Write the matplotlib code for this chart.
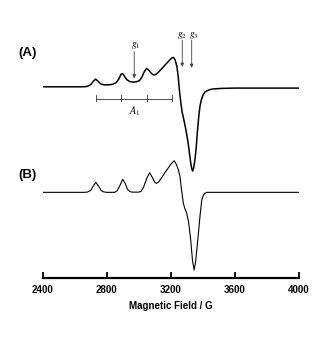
import matplotlib
matplotlib.use('Agg')
import matplotlib.pyplot as plt

# EPR spectra, intensity in arbitrary units relative to each baseline
field_a = [2400, 2660, 2680, 2700, 2715, 2730, 2745, 2760, 2780, 2800, 2820, 2840,
           2860, 2875, 2890, 2900, 2910, 2925, 2945, 2965, 2985, 3005, 3020, 3035,
           3050, 3065, 3080, 3095, 3110, 3130, 3150, 3170, 3190, 3205, 3218, 3228,
           3239, 3247, 3254, 3262, 3271, 3281, 3291, 3302, 3312, 3325, 3332, 3337,
           3343, 3350, 3358, 3366, 3375, 3383, 3391, 3403, 3416, 3435, 3458, 3490,
           3521, 3600, 4000]
signal_a = [0.3, 0.3, 0.8, 2.5, 5.5, 8.0, 6.0, 3.5, 2.3, 2.2, 2.4, 2.9,
            4.5, 8.0, 13.0, 13.5, 11.0, 7.5, 5.5, 5.0, 5.3, 6.5, 10.0, 15.5,
            18.7, 16.5, 13.5, 12.0, 13.0, 16.0, 19.5, 23.0, 26.5, 29.0, 29.7, 27.0,
            20.3, 10.0, -3.0, -14.0, -24.7, -32.0, -39.7, -49.0, -59.7, -76.0, -82.0, -84.0,
            -81.0, -74.0, -63.0, -46.0, -29.7, -19.0, -13.0, -7.5, -4.7, -3.0, -2.0, -1.6,
            -1.3, -1.0, -1.0]

field_b = [2400, 2660, 2680, 2700, 2715, 2732, 2750, 2765, 2780, 2800, 2850, 2865,
           2880, 2900, 2915, 2930, 2945, 2960, 3000, 3015, 3030, 3050, 3068, 3085,
           3100, 3112, 3125, 3145, 3165, 3185, 3205, 3222, 3235, 3247, 3258, 3268,
           3279, 3290, 3300, 3312, 3325, 3336, 3346, 3355, 3364, 3373, 3384, 3394,
           3405, 3415, 3425, 4000]
signal_b = [0.0, 0.0, 0.3, 2.0, 6.0, 10.0, 6.0, 2.0, 0.5, 0.0, 0.0, 1.5,
            6.0, 13.0, 9.0, 3.0, 0.8, 0.2, 0.2, 1.0, 5.0, 14.0, 19.6, 15.0,
            10.0, 9.0, 10.5, 15.0, 20.0, 24.5, 29.0, 31.6, 28.0, 23.0, 15.6, 2.0,
            -11.0, -17.0, -21.0, -30.0, -48.0, -68.0, -77.7, -70.0, -56.0, -41.0, -22.0, -7.7,
            -2.5, -0.8, 0.0, 0.0]

xticks = [2400, 2800, 3200, 3600, 4000]
g_fields = [2972, 3272, 3331]
g_labels = [r'$g_1$', r'$g_2$', r'$g_3$']
a1_lines = [2733, 2891, 3052, 3206]

plt.rcParams['font.family'] = ['Liberation Sans', 'DejaVu Sans']
plt.rcParams['mathtext.fontset'] = 'stix'

fig = plt.figure(figsize=(3.27, 3.38), dpi=100)
ax = fig.add_axes([0.1306, 0.1775, 0.783, 0.763])

off_a, off_b = 191, 85.7
ax.plot(field_a, [v + off_a for v in signal_a], color='black', lw=1.1)
ax.plot(field_b, [v + off_b for v in signal_b], color='black', lw=0.8)

ax.set_xlim(2400, 4000)
ax.set_ylim(0, 258)

for s in ['left', 'right', 'top']:
    ax.spines[s].set_visible(False)
ax.spines['bottom'].set_linewidth(1.6)
ax.set_yticks([])
ax.set_xticks(xticks)
ax.tick_params(axis='x', direction='in', length=4, width=1.3, labelsize=7, pad=5)
for lbl in ax.get_xticklabels():
    lbl.set_fontweight('bold')
ax.set_xlabel('Magnetic Field / G', fontsize=7, fontweight='bold', labelpad=4)

# g-value arrows
arrow_style = dict(arrowstyle='-|>', lw=0.6, color='0.25', mutation_scale=5,
                   shrinkA=0, shrinkB=0)
ax.annotate('', xy=(g_fields[0], 199.7), xytext=(g_fields[0], 226.3), arrowprops=arrow_style)
ax.annotate('', xy=(g_fields[1], 211.3), xytext=(g_fields[1], 238), arrowprops=arrow_style)
ax.annotate('', xy=(g_fields[2], 210.3), xytext=(g_fields[2], 238), arrowprops=arrow_style)
ax.text(g_fields[0] + 12, 233, g_labels[0], fontsize=7, ha='center', va='center')
ax.text(g_fields[1], 243, g_labels[1], fontsize=7, ha='center', va='center')
ax.text(g_fields[2] + 12, 243, g_labels[2], fontsize=7, ha='center', va='center')

# A1 hyperfine splitting bracket
ax.plot([a1_lines[0], a1_lines[-1]], [179, 179], color='0.2', lw=0.6)
for xl in a1_lines:
    ax.plot([xl, xl], [177.3, 183], color='0.2', lw=0.6)
ax.text(2978, 167, r'$A_1$', fontsize=7.5, ha='center', va='center')

fig.text(0.083, 0.843, '(A)', fontsize=9.5, fontweight='bold', ha='center', va='center')
fig.text(0.083, 0.482, '(B)', fontsize=9.5, fontweight='bold', ha='center', va='center')

fig.savefig('out.png', dpi=100)
